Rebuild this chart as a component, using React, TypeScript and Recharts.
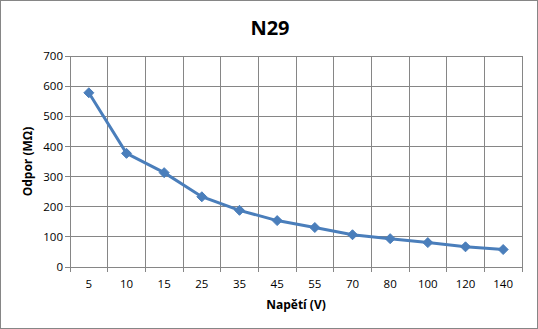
import { LineChart, Line, XAxis, YAxis, CartesianGrid } from "recharts";

const voltages = ["5", "10", "15", "25", "35", "45", "55", "70", "80", "100", "120", "140"];
const resistance = [578, 377, 313, 233, 188, 154, 131, 107, 94, 81, 67, 58];
const yTicks = [0, 100, 200, 300, 400, 500, 600, 700];

const boundaryTicks = voltages.map((_, i) => i).concat([voltages.length]);
const centerTicks = voltages.map((_, i) => i + 0.5);

const data = voltages.map((v, i) => ({ pos: i + 0.5, name: v, value: resistance[i] }));

const gridColor = "#868686";
const lineColor = "#4A7EBB";
const font = "'Open Sans', 'Noto Sans', sans-serif";

function Diamond(props: any) {
  const { cx, cy } = props;
  if (cx == null || cy == null) return null;
  const r = 5;
  return (
    <polygon
      points={`${cx},${cy - r} ${cx + r},${cy} ${cx},${cy + r} ${cx - r},${cy}`}
      fill={lineColor}
      stroke={lineColor}
    />
  );
}

export default function App() {
  return (
    <div
      style={{
        position: "fixed",
        left: 0,
        top: 0,
        width: 538,
        height: 329,
        boxSizing: "border-box",
        border: `1px solid ${gridColor}`,
        background: "#fff",
        fontFamily: font,
      }}
    >
      <style>{`.recharts-cartesian-grid line, .recharts-cartesian-axis line { shape-rendering: crispEdges; }`}</style>
      <div
        style={{
          position: "absolute",
          left: 0,
          width: 538,
          top: 13,
          textAlign: "center",
          fontSize: 20,
          fontWeight: "bold",
          lineHeight: "28px",
          color: "#000",
        }}
      >
        N29
      </div>
      <div style={{ position: "absolute", left: -1, top: -1 }}>
        <LineChart
          width={538}
          height={329}
          data={data}
          margin={{ top: 56, right: 16, left: 0, bottom: 7 }}
        >
          <CartesianGrid
            xAxisId="b"
            stroke={gridColor}
            strokeWidth={1}
            horizontal
            vertical
          />
          <XAxis
            xAxisId="b"
            dataKey="pos"
            type="number"
            domain={[0, voltages.length]}
            ticks={boundaryTicks}
            interval={0}
            tickFormatter={() => ""}
            tickSize={5}
            height={5}
            axisLine={{ stroke: gridColor }}
            tickLine={{ stroke: gridColor }}
          />
          <XAxis
            xAxisId="c"
            dataKey="pos"
            type="number"
            domain={[0, voltages.length]}
            ticks={centerTicks}
            interval={0}
            tickFormatter={(v: number) => voltages[Math.floor(v)]}
            axisLine={false}
            tickLine={false}
            height={50}
            tick={{ fill: "#000", fontSize: 11.5, fontFamily: font }}
            label={{
              value: "Napětí (V)",
              position: "insideBottom",
              offset: 13,
              style: { fill: "#000", fontSize: 12, fontWeight: "bold", fontFamily: font },
            }}
          />
          <YAxis
            type="number"
            domain={[0, 700]}
            ticks={yTicks}
            interval={0}
            width={70}
            tickSize={5}
            axisLine={{ stroke: gridColor }}
            tickLine={{ stroke: gridColor }}
            tick={{ fill: "#000", fontSize: 11.5, fontFamily: font }}
            label={{
              value: "Odpor (MΩ)",
              angle: -90,
              position: "insideLeft",
              offset: 28,
              style: { textAnchor: "middle", fill: "#000", fontSize: 12, fontWeight: "bold", fontFamily: font },
            }}
          />
          <Line
            xAxisId="b"
            dataKey="value"
            stroke={lineColor}
            strokeWidth={3}
            dot={<Diamond />}
            activeDot={false}
            isAnimationActive={false}
          />
        </LineChart>
      </div>
    </div>
  );
}
